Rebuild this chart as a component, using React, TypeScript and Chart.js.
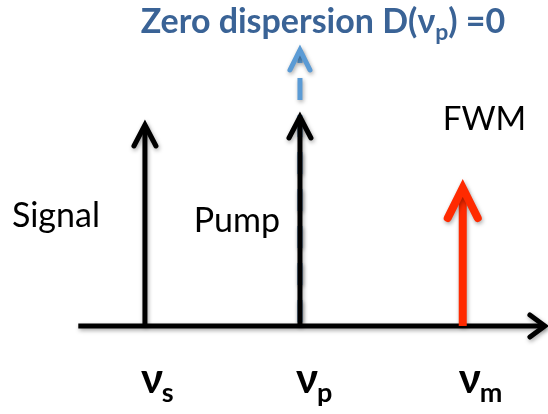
import React, { useEffect, useRef } from "react";
import { Chart, registerables } from "chart.js";

Chart.register(...registerables);

// Frequencies (relative units, pump = 0)
const lineNames = ["Signal", "Pump", "FWM"];
const lineFreqs = [-1.0, 0.0, 1.05];
const lineAmplitudes = [2.01, 2.09, 1.38];
const lineColors = ["#000000", "#000000", "#ff2a00"];
const symbolSubs = ["s", "p", "m"];
const zeroDispersionAmplitude = 2.76;
const axisRange = [-1.43, 1.58];
const titleMain = "Zero dispersion D(ν";
const titleSub = "p";
const titleEnd = ") =0";

const X_MIN = -1.935;
const X_MAX = 1.6;
const Y_MIN = -0.88;
const Y_MAX = 3.26;

function drawHead(ctx: CanvasRenderingContext2D, x: number, y: number, dir: "up" | "right", w: number, d: number, color: string, lw: number) {
  ctx.save();
  ctx.setLineDash([]);
  ctx.strokeStyle = color;
  ctx.lineWidth = lw;
  ctx.lineCap = "round";
  ctx.lineJoin = "miter";
  ctx.beginPath();
  if (dir === "up") {
    ctx.moveTo(x - w, y + d);
    ctx.lineTo(x, y);
    ctx.lineTo(x + w, y + d);
  } else {
    ctx.moveTo(x - d, y - w);
    ctx.lineTo(x, y);
    ctx.lineTo(x - d, y + w);
  }
  ctx.stroke();
  ctx.restore();
}

const arrowPlugin = {
  id: "arrowPlugin",
  beforeDatasetDraw(chart: any) {
    const ctx = chart.ctx as CanvasRenderingContext2D;
    ctx.save();
    ctx.shadowColor = "rgba(0,0,0,0.35)";
    ctx.shadowBlur = 4;
    ctx.shadowOffsetX = 1;
    ctx.shadowOffsetY = 2;
  },
  afterDatasetDraw(chart: any, args: any) {
    const ctx = chart.ctx as CanvasRenderingContext2D;
    const ds = chart.data.datasets[args.index];
    const pts = args.meta.data;
    const head = ds.head;
    if (head && pts.length) {
      const p = head.dir === "right" ? pts[pts.length - 1] : pts[0];
      drawHead(ctx, p.x, p.y, head.dir, head.w, head.d, ds.borderColor, ds.borderWidth);
    }
    ctx.restore();
  },
};

const FONT = "Lato, 'Open Sans', sans-serif";

const labelPlugin = {
  id: "labelPlugin",
  afterDraw(chart: any) {
    const ctx = chart.ctx as CanvasRenderingContext2D;
    const xs = chart.scales.x;
    const ys = chart.scales.y;
    const base = ys.getPixelForValue(0);
    ctx.save();
    ctx.textBaseline = "alphabetic";
    ctx.textAlign = "left";

    // Title
    const pumpX = xs.getPixelForValue(lineFreqs[1]);
    ctx.fillStyle = "#3a6396";
    const big = `bold 34px ${FONT}`;
    const small = `bold 23px ${FONT}`;
    ctx.font = big;
    const w1 = ctx.measureText(titleMain).width;
    const w3 = ctx.measureText(titleEnd).width;
    ctx.font = small;
    const w2 = ctx.measureText(titleSub).width;
    let tx = pumpX + 23 - (w1 + w2 + w3) / 2;
    const ty = 33;
    ctx.font = big;
    ctx.fillText(titleMain, tx, ty);
    tx += w1;
    ctx.font = small;
    ctx.fillText(titleSub, tx, ty + 7);
    tx += w2;
    ctx.font = big;
    ctx.fillText(titleEnd, tx, ty);

    // Line names
    ctx.fillStyle = "#000000";
    ctx.font = `34px ${FONT}`;
    const sx = xs.getPixelForValue(lineFreqs[0]);
    ctx.textAlign = "right";
    ctx.fillText(lineNames[0], sx - 45, base - 99);
    ctx.fillText(lineNames[1], pumpX - 20, base - 94);
    const fx = xs.getPixelForValue(lineFreqs[2]);
    ctx.textAlign = "left";
    ctx.font = `33px ${FONT}`;
    ctx.fillText(lineNames[2], fx - 20, ys.getPixelForValue(lineAmplitudes[2]) - 58);

    // Frequency symbols
    for (let i = 0; i < lineFreqs.length; i++) {
      const x = xs.getPixelForValue(lineFreqs[i]) - 4;
      ctx.textAlign = "left";
      ctx.font = `bold 42px ${FONT}`;
      ctx.fillText("ν", x, base + 67);
      const wv = ctx.measureText("ν").width;
      ctx.font = `bold 27px ${FONT}`;
      ctx.fillText(symbolSubs[i], x + wv - 1, base + 76);
    }
    ctx.restore();
  },
};

export default function App() {
  const ref = useRef<HTMLCanvasElement | null>(null);
  useEffect(() => {
    if (!ref.current) return;
    const datasets: any[] = [];
    lineFreqs.forEach((f, i) => {
      datasets.push({
        label: lineNames[i],
        data: [
          { x: f, y: lineAmplitudes[i] },
          { x: f, y: 0 },
        ],
        borderColor: lineColors[i],
        borderWidth: i === 2 ? 8 : 5,
        borderCapStyle: "butt",
        pointRadius: 0,
        showLine: true,
        order: 1,
        head: i === 2 ? { dir: "up", w: 15, d: 30 } : { dir: "up", w: 11, d: 21 },
      });
    });
    datasets.push({
      label: "Zero dispersion",
      data: [
        { x: lineFreqs[1], y: zeroDispersionAmplitude },
        { x: lineFreqs[1], y: 0 },
      ],
      borderColor: "#5b9bd5",
      borderWidth: 5,
      borderDash: [22, 15],
      borderDashOffset: 9,
      borderCapStyle: "butt",
      pointRadius: 0,
      showLine: true,
      order: 10,
      head: { dir: "up", w: 10, d: 20 },
    });
    datasets.push({
      label: "axis",
      data: [
        { x: axisRange[0], y: 0 },
        { x: axisRange[1], y: 0 },
      ],
      borderColor: "#000000",
      borderWidth: 5,
      borderCapStyle: "butt",
      pointRadius: 0,
      showLine: true,
      order: 5,
      head: { dir: "right", w: 11, d: 15 },
    });
    const chart = new Chart(ref.current, {
      type: "scatter",
      data: { datasets },
      options: {
        animation: false,
        responsive: true,
        maintainAspectRatio: false,
        layout: { padding: 0 },
        plugins: { legend: { display: false }, tooltip: { enabled: false }, title: { display: false } },
        scales: {
          x: { type: "linear", min: X_MIN, max: X_MAX, display: false },
          y: { type: "linear", min: Y_MIN, max: Y_MAX, display: false },
        },
      },
      plugins: [arrowPlugin, labelPlugin],
    } as any);
    return () => chart.destroy();
  }, []);
  return (
    <div style={{ position: "absolute", left: 0, top: 0, width: 548, height: 414, background: "#fff" }}>
      <canvas ref={ref} />
    </div>
  );
}
